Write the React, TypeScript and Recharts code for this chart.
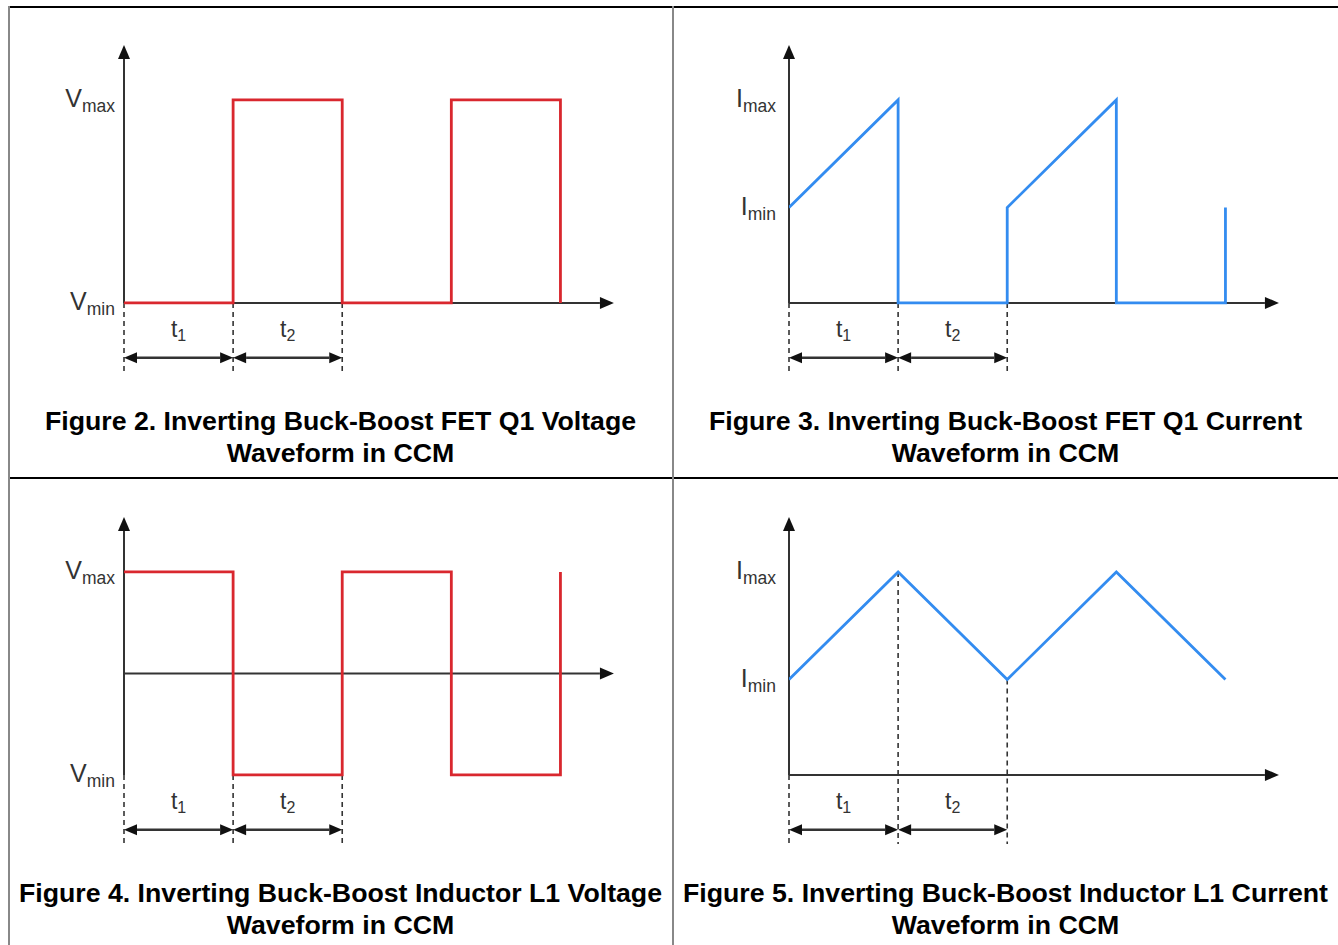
import React from "react";
import { LineChart, Line, XAxis, YAxis, ReferenceLine, ReferenceDot } from "recharts";

const RED = "#d9272e";
const BLUE = "#338cf0";
const INK = "#333333";

// each switching interval (t1, t2) is one unit of time
const stepTimes = [0, 1, 1, 2, 2, 3, 3, 4, 4];
const rampTimes = [0, 1, 2, 3, 4];

const q1Voltage = [0, 0, 1, 1, 0, 0, 1, 1, 0];
const q1Current = [0.47, 1, 0, 0, 0.47, 1, 0, 0, 0.47];
const l1Voltage = [1, 1, 0, 0, 1, 1, 0, 0, 1];
const l1Current = [0.47, 1, 0.47, 1, 0.47];

const voltTicks = [0, 1];
const currTicks = [0.47, 1];
const tickSubs = ["min", "max"];

const dashTimes = [0, 1, 2];
const flatDashTops = [0, 0, 0];
const rampDashTops = [0, 1, 0.47];

const intervalLabels = ["1", "2"];

const titles = [
  ["Figure 2. Inverting Buck-Boost FET Q1 Voltage", "Waveform in CCM"],
  ["Figure 3. Inverting Buck-Boost FET Q1 Current", "Waveform in CCM"],
  ["Figure 4. Inverting Buck-Boost Inductor L1 Voltage", "Waveform in CCM"],
  ["Figure 5. Inverting Buck-Boost Inductor L1 Current", "Waveform in CCM"],
];

const DIM_Y = -0.27;
const DASH_BOTTOM = -0.34;
const LABEL_Y = -0.17;

function head(tx: number, ty: number, dx: number, dy: number, len: number, half: number) {
  const bx = tx - dx * len;
  const by = ty - dy * len;
  const nx = -dy * half;
  const ny = dx * half;
  return {
    base: [bx, by],
    points: `${tx},${ty} ${bx + nx},${by + ny} ${bx - nx},${by - ny}`,
  };
}

function Arrow(props: any) {
  const { x1, y1, x2, y2, both, len = 14, half = 6, width = 2 } = props;
  const l = Math.hypot(x2 - x1, y2 - y1) || 1;
  const dx = (x2 - x1) / l;
  const dy = (y2 - y1) / l;
  const end = head(x2, y2, dx, dy, len, half);
  const start = both ? head(x1, y1, -dx, -dy, len, half) : null;
  const sx = start ? start.base[0] : x1;
  const sy = start ? start.base[1] : y1;
  return (
    <g>
      <line x1={sx} y1={sy} x2={end.base[0]} y2={end.base[1]} stroke={INK} strokeWidth={width} />
      <polygon points={end.points} fill="#111" />
      {start && <polygon points={start.points} fill="#111" />}
    </g>
  );
}

function SubTick(props: any) {
  const { x, y, index, letter } = props;
  const gap = letter === "I" ? 13 : 9;
  return (
    <text x={x - gap} y={y + 7} textAnchor="end" fill={INK} fontFamily="Liberation Sans, Arial, sans-serif">
      <tspan fontSize={25}>{letter}</tspan>
      <tspan fontSize={17.5} dy={5}>{tickSubs[index]}</tspan>
    </text>
  );
}

function IntervalLabel(props: any) {
  const { cx, cy, sub } = props;
  return (
    <text x={cx} y={cy} textAnchor="middle" fill={INK} fontFamily="Liberation Sans, Arial, sans-serif">
      <tspan fontSize={23}>t</tspan>
      <tspan fontSize={16} dy={4}>{sub}</tspan>
    </text>
  );
}

interface PanelProps {
  times: number[];
  values: number[];
  color: string;
  letter: string;
  ticks: number[];
  axisY: number;
  dashTops: number[];
  left: number;
  top: number;
  title: string[];
}

function Panel({ times, values, color, letter, ticks, axisY, dashTops, left, top, title }: PanelProps) {
  const data = times.map((t, i) => ({ t, v: values[i] }));
  return (
    <div style={{ position: "absolute", left, top, width: 665, height: 472 }}>
      <LineChart width={665} height={400} data={data} margin={{ top: 39, right: 50, bottom: 26, left: 64 }}>
        <XAxis type="number" dataKey="t" domain={[0, 4.5]} hide allowDataOverflow />
        <YAxis
          type="number"
          domain={[-0.35, 1.3]}
          ticks={ticks}
          interval={0}
          width={60}
          axisLine={false}
          tickLine={false}
          tickSize={0}
          tickMargin={0}
          allowDataOverflow
          tick={(p: any) => <SubTick {...p} letter={letter} />}
        />
        <ReferenceLine
          segment={[{ x: 0, y: 0 }, { x: 0, y: 1.27 }]}
          shape={(p: any) => <Arrow {...p} />}
        />
        <ReferenceLine
          segment={[{ x: 0, y: axisY }, { x: 4.49, y: axisY }]}
          shape={(p: any) => <Arrow {...p} />}
        />
        {dashTimes.map((t, i) => (
          <ReferenceLine
            key={`d${i}`}
            segment={[{ x: t, y: dashTops[i] }, { x: t, y: DASH_BOTTOM }]}
            stroke={INK}
            strokeWidth={1.6}
            strokeDasharray="5 4"
          />
        ))}
        <Line
          type="linear"
          dataKey="v"
          stroke={color}
          strokeWidth={2.8}
          strokeLinejoin="miter"
          dot={false}
          activeDot={false}
          isAnimationActive={false}
        />
        {intervalLabels.map((s, i) => (
          <ReferenceLine
            key={`a${i}`}
            segment={[{ x: i, y: DIM_Y }, { x: i + 1, y: DIM_Y }]}
            shape={(p: any) => <Arrow {...p} both len={13} half={5.5} width={2.4} />}
          />
        ))}
        {intervalLabels.map((s, i) => (
          <ReferenceDot
            key={`l${i}`}
            x={i + 0.5}
            y={LABEL_Y}
            r={0}
            shape={(p: any) => <IntervalLabel {...p} sub={s} />}
          />
        ))}
      </LineChart>
      <div
        style={{
          position: "absolute",
          left: 8,
          top: 405,
          width: 665,
          textAlign: "center",
          fontFamily: "Liberation Sans, Arial, sans-serif",
          fontWeight: "bold",
          fontSize: 26.7,
          lineHeight: "32px",
          color: "#000",
          whiteSpace: "nowrap",
        }}
      >
        <div>{title[0]}</div>
        <div>{title[1]}</div>
      </div>
    </div>
  );
}

export default function App() {
  return (
    <div style={{ position: "absolute", left: 0, top: 0, width: 1338, height: 945, background: "#fff", overflow: "hidden" }}>
      <Panel times={stepTimes} values={q1Voltage} color={RED} letter="V" ticks={voltTicks} axisY={0} dashTops={flatDashTops} left={0} top={0} title={titles[0]} />
      <Panel times={stepTimes} values={q1Current} color={BLUE} letter="I" ticks={currTicks} axisY={0} dashTops={flatDashTops} left={665} top={0} title={titles[1]} />
      <Panel times={stepTimes} values={l1Voltage} color={RED} letter="V" ticks={voltTicks} axisY={0.5} dashTops={flatDashTops} left={0} top={472} title={titles[2]} />
      <Panel times={rampTimes} values={l1Current} color={BLUE} letter="I" ticks={currTicks} axisY={0} dashTops={rampDashTops} left={665} top={472} title={titles[3]} />
      <div style={{ position: "absolute", left: 8, top: 6, width: 1330, height: 2, background: "#000" }} />
      <div style={{ position: "absolute", left: 8, top: 477, width: 1330, height: 2, background: "#000" }} />
      <div style={{ position: "absolute", left: 8, top: 6, width: 2, height: 939, background: "#888" }} />
      <div style={{ position: "absolute", left: 672, top: 6, width: 2, height: 939, background: "#888" }} />
    </div>
  );
}
